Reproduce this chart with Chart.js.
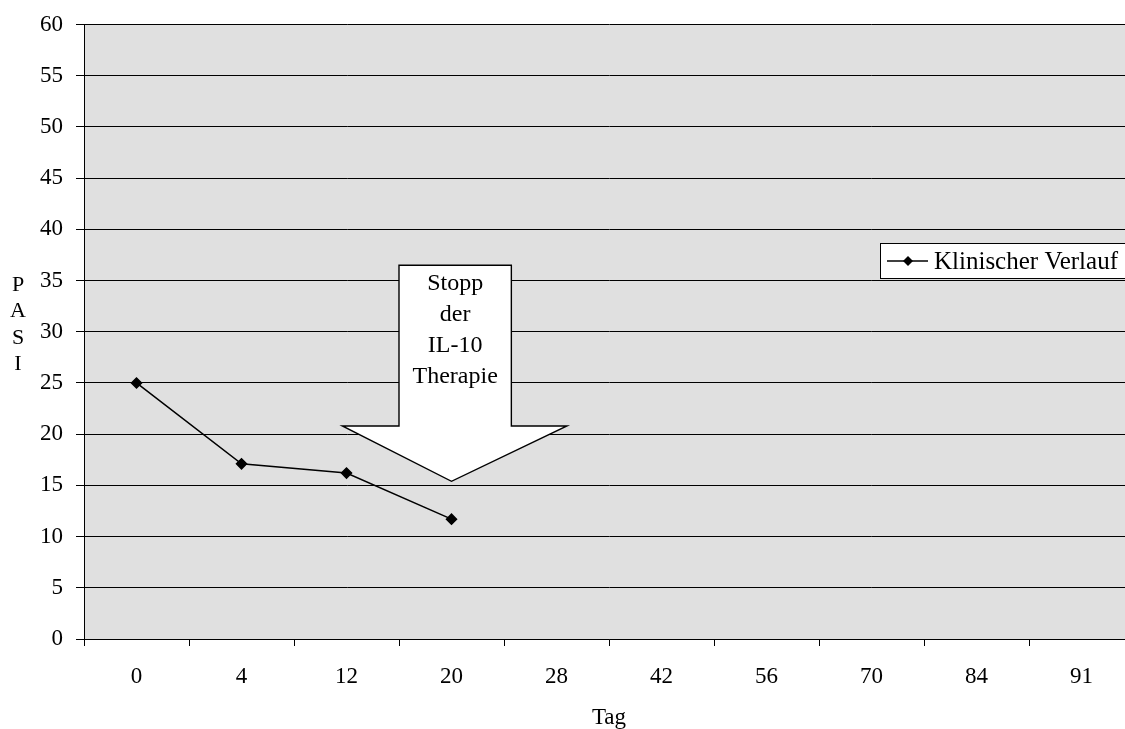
<!DOCTYPE html>
<html>
<head>
<meta charset="utf-8">
<script src="https://cdn.jsdelivr.net/npm/chart.js@4"></script>
<style>
  html, body { margin:0; padding:0; background:#fff; overflow:hidden; }
  #wrap { width:1150px; height:729px; position:relative; }
</style>
</head>
<body>
<div id="wrap"><canvas id="c"></canvas></div>
<script>
const days = ['0','4','12','20','28','42','56','70','84','91'];
const pasi = [25, 17.1, 16.2, 11.7, null, null, null, null, null, null];
const seriesName = 'Klinischer Verlauf';
const yTitleLetters = ['P','A','S','I'];
const xTitle = 'Tag';
const arrowText = ['Stopp','der','IL-10','Therapie'];
// arrow annotation in data units (category index, PASI value)
const arrowShaft = { left: 2.5, right: 3.57, top: 36.5 };
const arrowHead = { left: 1.96, right: 4.10, base: 20.8, tipX: 3.0, tipY: 15.4 };

const FONT = "'Liberation Serif', 'Times New Roman', serif";
const FS = 23;

const bgPlugin = {
  id: 'bg',
  beforeDraw(chart) {
    const {ctx, chartArea:a} = chart;
    ctx.save();
    ctx.fillStyle = '#e0e0e0';
    ctx.fillRect(a.left, a.top, a.right - a.left, a.bottom - a.top);
    ctx.restore();
  }
};

const annoPlugin = {
  id: 'anno',
  afterDraw(chart) {
    const ctx = chart.ctx;
    const xs = chart.scales.x, ys = chart.scales.y;
    const X = v => xs.getPixelForValue(v);
    const Y = v => ys.getPixelForValue(v);
    // arrow
    ctx.save();
    ctx.beginPath();
    ctx.moveTo(X(arrowShaft.left), Y(arrowShaft.top));
    ctx.lineTo(X(arrowShaft.right), Y(arrowShaft.top));
    ctx.lineTo(X(arrowShaft.right), Y(arrowHead.base));
    ctx.lineTo(X(arrowHead.right), Y(arrowHead.base));
    ctx.lineTo(X(arrowHead.tipX), Y(arrowHead.tipY));
    ctx.lineTo(X(arrowHead.left), Y(arrowHead.base));
    ctx.lineTo(X(arrowShaft.left), Y(arrowHead.base));
    ctx.closePath();
    ctx.fillStyle = '#fff';
    ctx.fill();
    ctx.strokeStyle = '#000';
    ctx.lineWidth = 1.4;
    ctx.stroke();
    ctx.fillStyle = '#000';
    ctx.font = '24px ' + FONT;
    ctx.textAlign = 'center';
    ctx.textBaseline = 'middle';
    const cx = (X(arrowShaft.left) + X(arrowShaft.right)) / 2;
    const ty = Y(arrowShaft.top) + 19;
    arrowText.forEach((t, i) => ctx.fillText(t, cx, ty + i * 31));
    ctx.restore();

    // y title stacked letters
    ctx.save();
    ctx.fillStyle = '#000';
    ctx.font = '22px ' + FONT;
    ctx.textAlign = 'center';
    ctx.textBaseline = 'middle';
    yTitleLetters.forEach((t, i) => ctx.fillText(t, 18, 285 + i * 26.5));
    ctx.restore();

    // legend
    ctx.save();
    const lx = 880.5, ly = 243.5, lw = 250, lh = 35;
    ctx.fillStyle = '#fff';
    ctx.fillRect(lx, ly, lw, lh);
    ctx.strokeStyle = '#000';
    ctx.lineWidth = 1;
    ctx.strokeRect(lx, ly, lw, lh);
    const my = ly + lh / 2;
    ctx.beginPath();
    ctx.moveTo(887, my); ctx.lineTo(928, my);
    ctx.lineWidth = 1.5; ctx.stroke();
    ctx.beginPath();
    ctx.moveTo(908, my - 5); ctx.lineTo(913, my); ctx.lineTo(908, my + 5); ctx.lineTo(903, my);
    ctx.closePath(); ctx.fillStyle = '#000'; ctx.fill();
    ctx.font = '25px ' + FONT;
    ctx.textAlign = 'left';
    ctx.textBaseline = 'middle';
    ctx.fillText(seriesName, 934, my + 1);
    ctx.restore();
  }
};

new Chart(document.getElementById('c'), {
  type: 'line',
  data: {
    labels: days,
    datasets: [{
      label: seriesName,
      data: pasi,
      borderColor: '#000',
      backgroundColor: '#000',
      borderWidth: 1.5,
      pointStyle: 'rectRot',
      pointRadius: 5,
      pointBackgroundColor: '#000',
      pointBorderColor: '#000',
      tension: 0,
      spanGaps: false
    }]
  },
  options: {
    responsive: true,
    maintainAspectRatio: false,
    animation: false,
    layout: { padding: { top: 24, right: 16, left: 0, bottom: 0 } },
    plugins: { legend: { display: false }, tooltip: { enabled: false } },
    scales: {
      x: {
        offset: true,
        grid: { display: true, drawOnChartArea: false, offset: true, tickLength: 7, color: '#000', lineWidth: 1 },
        border: { display: true, color: '#000', width: 1 },
        ticks: { color: '#000', font: { family: FONT, size: FS }, padding: 17, maxRotation: 0, autoSkip: false },
        title: { display: true, text: xTitle, color: '#000', font: { family: FONT, size: FS, lineHeight: 1 }, padding: { top: 0, bottom: 0 } },
        afterFit(s) { s.height = 90; }
      },
      y: {
        min: 0, max: 60,
        grid: { color: '#000', lineWidth: 1, tickLength: 8 },
        border: { display: true, color: '#000', width: 1 },
        ticks: { stepSize: 5, color: '#000', font: { family: FONT, size: FS, lineHeight: 1 }, padding: 13 },
        afterFit(s) { s.width = 84; }
      }
    }
  },
  plugins: [bgPlugin, annoPlugin]
});
</script>
</body>
</html>
